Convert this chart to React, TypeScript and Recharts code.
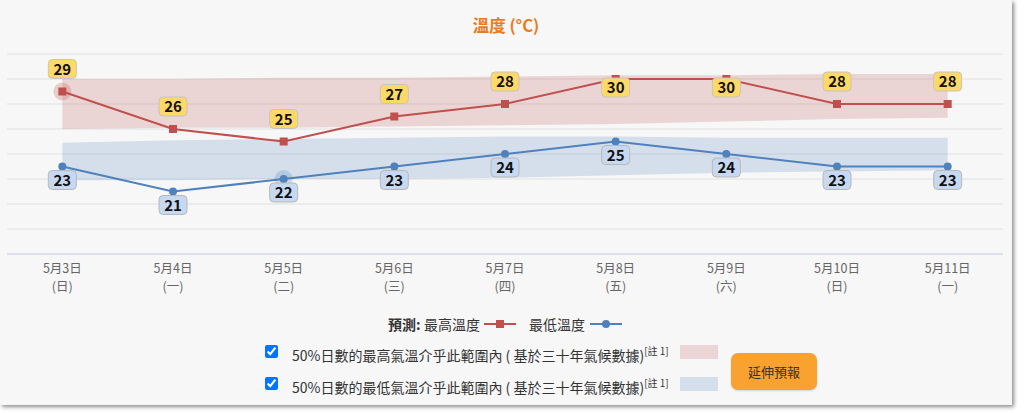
import React from "react";
import {
	ComposedChart,
	Line,
	Area,
	XAxis,
	YAxis,
	CartesianGrid,
	LabelList,
} from "recharts";

const days = ["5月3日", "5月4日", "5月5日", "5月6日", "5月7日", "5月8日", "5月9日", "5月10日", "5月11日"];
const weekdays = ["(日)", "(一)", "(二)", "(三)", "(四)", "(五)", "(六)", "(日)", "(一)"];
const maxTemp = [29, 26, 25, 27, 28, 30, 30, 28, 28];
const minTemp = [23, 21, 22, 23, 24, 25, 24, 23, 23];
const maxRangeLow = [26.0, 26.1, 26.1, 26.2, 26.3, 26.4, 26.6, 26.8, 26.9];
const maxRangeHigh = [30.0, 30.0, 30.1, 30.1, 30.2, 30.3, 30.3, 30.4, 30.4];
const minRangeLow = [21.9, 21.9, 22.0, 22.0, 22.1, 22.3, 22.5, 22.6, 22.7];
const minRangeHigh = [24.9, 25.1, 25.2, 25.3, 25.4, 25.4, 25.3, 25.3, 25.3];
const yTicks = [16, 18, 20, 22, 24, 26, 28, 30, 32];

const RED = "#c0504d";
const BLUE = "#4f81bd";
const FONT = "'Noto Sans CJK TC', 'Noto Sans', sans-serif";

const data = days.map((day, i) => ({
	day,
	max: maxTemp[i],
	min: minTemp[i],
	maxRange: [maxRangeLow[i], maxRangeHigh[i]],
	minRange: [minRangeLow[i], minRangeHigh[i]],
}));

const DayTick = (props: any) => {
	const { x, y, payload } = props;
	return (
		<g fontFamily={FONT} fontSize={12.5} fill="#666">
			<text x={x} y={y + 19} textAnchor="middle">{payload.value}</text>
			<text x={x} y={y + 37} textAnchor="middle">{weekdays[payload.index]}</text>
		</g>
	);
};

const MaxDot = (props: any) => {
	const { cx, cy, index } = props;
	return (
		<g key={"maxdot" + index}>
			{index === 0 && <circle cx={cx} cy={cy} r={9} fill={RED} fillOpacity={0.25} />}
			<rect x={cx - 4} y={cy - 4} width={8} height={8} fill={RED} />
		</g>
	);
};

const MinDot = (props: any) => {
	const { cx, cy, index } = props;
	return (
		<g key={"mindot" + index}>
			{index === 2 && <circle cx={cx} cy={cy} r={9} fill={BLUE} fillOpacity={0.25} />}
			<circle cx={cx} cy={cy} r={4} fill={BLUE} />
		</g>
	);
};

const MaxLabel = (props: any) => {
	const { x, y, value } = props;
	const top = value >= 30 ? y - 1 : y - 32;
	return (
		<g>
			<rect x={x - 14} y={top} width={28} height={19} rx={4} fill="#ffd966" stroke="#c4c4c4" />
			<text x={x} y={top + 15} textAnchor="middle" fontSize={15} fontWeight="bold" fill="#111" fontFamily={FONT}>
				{value}
			</text>
		</g>
	);
};

const MinLabel = (props: any) => {
	const { x, y, value } = props;
	const top = y + 4;
	return (
		<g>
			<rect x={x - 14} y={top} width={28} height={19} rx={4} fill="#c6d9f1" stroke="#b8b8b8" />
			<text x={x} y={top + 15} textAnchor="middle" fontSize={15} fontWeight="bold" fill="#111" fontFamily={FONT}>
				{value}
			</text>
		</g>
	);
};

const LegendIcon = ({ color, square }: { color: string; square: boolean }) => (
	<svg width={32} height={10} style={{ display: "block" }}>
		<line x1={0} y1={5} x2={32} y2={5} stroke={color} strokeWidth={2} />
		{square ? <rect x={12} y={1} width={8} height={8} fill={color} /> : <circle cx={16} cy={5} r={4} fill={color} />}
	</svg>
);

const legendText: React.CSSProperties = {
	position: "absolute",
	top: 314,
	fontSize: 14,
	lineHeight: "20px",
	color: "#333",
	whiteSpace: "nowrap",
};

const App: React.FC = () => {
	return (
		<div style={{ position: "absolute", left: 0, top: 0, width: 1024, height: 413, background: "#fff", overflow: "hidden", fontFamily: FONT }}>
			<div
				style={{
					position: "absolute",
					left: 0,
					top: 0,
					width: 1012,
					height: 405,
					background: "#f7f7f7",
					boxShadow: "2px 2px 4px rgba(0,0,0,0.45)",
				}}
			/>
			<div style={{ position: "absolute", left: 0, top: 13, width: 1012, textAlign: "center", color: "#ec7a1c", fontWeight: "bold", fontSize: 16.5 }}>
				溫度 (°C)
			</div>
			<div style={{ position: "absolute", left: 0, top: 0 }}>
				<ComposedChart width={1012} height={300} data={data} margin={{ top: 54, right: 9, bottom: 5, left: 7 }}>
					<CartesianGrid horizontal vertical={false} stroke="#e0e0e0" />
					<XAxis
						dataKey="day"
						scale="band"
						axisLine={{ stroke: "#ccd6eb" }}
						tickLine={false}
						tickSize={0}
						tickMargin={0}
						height={41}
						interval={0}
						tick={<DayTick />}
					/>
					<YAxis hide domain={[16, 32]} ticks={yTicks} />
					<Area dataKey="maxRange" type="linear" stroke="none" fill={RED} fillOpacity={0.2} isAnimationActive={false} />
					<Area dataKey="minRange" type="linear" stroke="none" fill={BLUE} fillOpacity={0.2} isAnimationActive={false} />
					<Line dataKey="max" type="linear" stroke={RED} strokeWidth={2} dot={<MaxDot />} activeDot={false} isAnimationActive={false}>
						<LabelList dataKey="max" content={<MaxLabel />} />
					</Line>
					<Line dataKey="min" type="linear" stroke={BLUE} strokeWidth={2} dot={<MinDot />} activeDot={false} isAnimationActive={false}>
						<LabelList dataKey="min" content={<MinLabel />} />
					</Line>
				</ComposedChart>
			</div>
			<div style={{ ...legendText, left: 388, fontWeight: "bold" }}>預測:</div>
			<div style={{ ...legendText, left: 424 }}>最高溫度</div>
			<div style={{ position: "absolute", left: 484, top: 319 }}>
				<LegendIcon color={RED} square />
			</div>
			<div style={{ ...legendText, left: 529 }}>最低溫度</div>
			<div style={{ position: "absolute", left: 590, top: 319 }}>
				<LegendIcon color={BLUE} square={false} />
			</div>
			{[
				{ top: 341, text: "50%日數的最高氣溫介乎此範圍內 ( 基於三十年氣候數據)", swatch: "#ecd5d6" },
				{ top: 373, text: "50%日數的最低氣溫介乎此範圍內 ( 基於三十年氣候數據)", swatch: "#d5dfeb" },
			].map((row) => (
				<div key={row.top} style={{ position: "absolute", left: 265, top: row.top, height: 20, whiteSpace: "nowrap", color: "#333" }}>
					<input type="checkbox" defaultChecked style={{ position: "absolute", left: 0, top: 4, width: 13, height: 13, margin: 0 }} />
					<span style={{ position: "absolute", left: 27, top: 0, fontSize: 14, lineHeight: "20px" }}>
						{row.text}
						<sup style={{ fontSize: 10 }}>[註 1]</sup>
					</span>
					<div style={{ position: "absolute", left: 415, top: 4, width: 38, height: 14, background: row.swatch }} />
				</div>
			))}
			<div
				style={{
					position: "absolute",
					left: 731,
					top: 353,
					width: 86,
					height: 37,
					borderRadius: 7,
					background: "#f9a22f",
					color: "#333",
					fontSize: 13,
					lineHeight: "37px",
					textAlign: "center",
					boxShadow: "0 1px 2px rgba(0,0,0,0.15)",
				}}
			>
				延伸預報
			</div>
		</div>
	);
};

export default App;
